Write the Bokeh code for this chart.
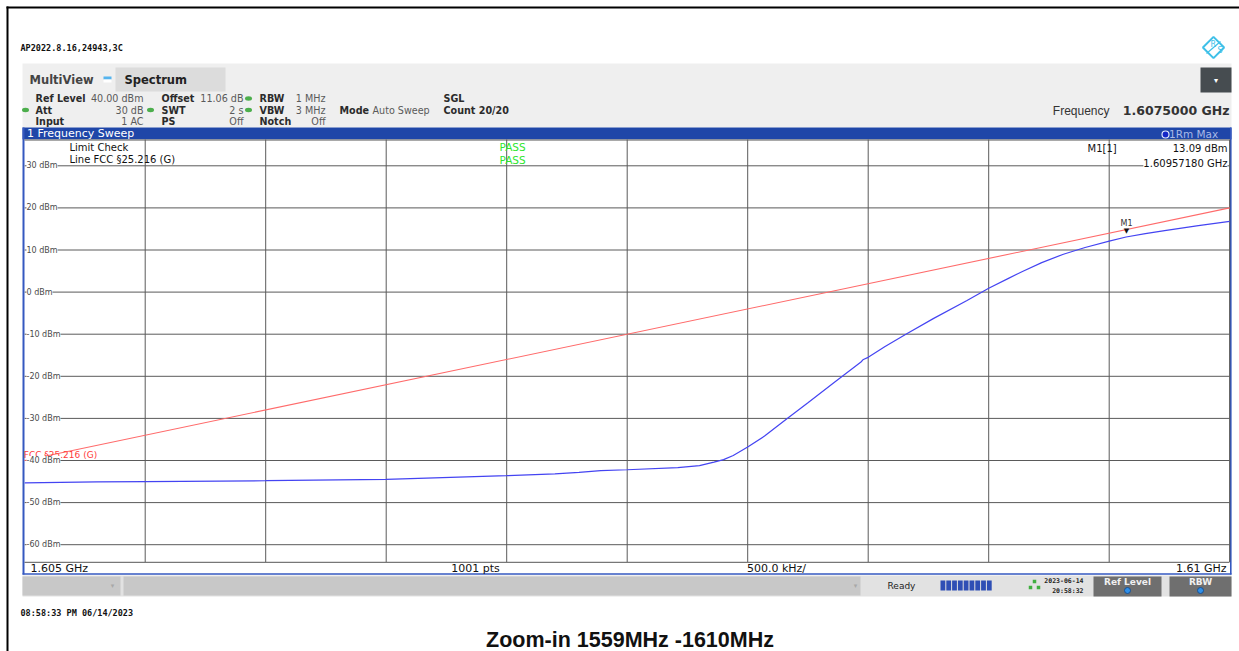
import numpy as np
from bokeh.plotting import figure
from bokeh.models import Range1d, ColumnDataSource, LabelSet, Label
from bokeh.core.properties import value
from bokeh.embed import file_html
from bokeh.resources import INLINE

# ---------------- data ----------------
freq_ghz = [1.60500, 1.60530, 1.60550, 1.60600, 1.60650, 1.60700, 1.60720, 1.60730,
            1.60739, 1.60750, 1.60771, 1.60780, 1.60786, 1.60790, 1.60794, 1.60800,
            1.60807, 1.60816, 1.60825, 1.60836, 1.60847, 1.60848, 1.60850, 1.60857,
            1.60866, 1.60877, 1.60891, 1.60900, 1.60908, 1.60914, 1.60922, 1.60931,
            1.60940, 1.60950, 1.60957, 1.60965, 1.60973, 1.60987, 1.61000]
trace_dbm = [-45.3, -45.1, -45.0, -44.8, -44.5, -43.6, -43.2, -42.8,
             -42.4, -42.2, -41.7, -41.2, -40.4, -39.8, -38.8, -36.8,
             -34.2, -30.2, -26.3, -21.4, -16.6, -16.0, -15.5, -12.9,
             -9.9, -6.3, -2.0, 0.9, 3.2, 4.9, 7.0, 9.0,
             10.6, 12.1, 13.09, 13.9, 14.6, 15.8, 16.8]
limit_freq_ghz = [1.605, 1.610]
limit_dbm = [-40.0, 20.0]
grid_dbm = [30, 20, 10, 0, -10, -20, -30, -40, -50, -60]
grid_dbm_labels = ["30 dBm", "20 dBm", "10 dBm", "0 dBm", "-10 dBm", "-20 dBm",
                   "-30 dBm", "-40 dBm", "-50 dBm", "-60 dBm"]
grid_freq_ghz = [1.6055, 1.6060, 1.6065, 1.6070, 1.6075, 1.6080, 1.6085, 1.6090, 1.6095]
f_start, f_stop = 1.605, 1.610
marker_freq_ghz = 1.6095718
marker_dbm = 13.09

# ---------------- layout (reference pixel geometry) ----------------
W, H = 1239, 651
X0_PX, X1_PX = 24.2, 1229.2       # pixel of f_start / f_stop
Y30_PX, PX_PER_DB = 165.3, 4.21   # pixel of 30 dBm, pixels per dB
GRID_TOP, GRID_BOT = 139.0, 561.5

fpp = (f_stop - f_start) / (X1_PX - X0_PX)
freq_range = Range1d(f_start - X0_PX * fpp, f_stop + (W - X1_PX) * fpp)
dbm_range = Range1d(30 - (H - Y30_PX) / PX_PER_DB, 30 + Y30_PX / PX_PER_DB)

p = figure(width=W, height=H, x_range=Range1d(0, W), y_range=Range1d(H, 0),
           output_backend="svg", toolbar_location=None, tools="",
           x_axis_location=None, y_axis_location=None, min_border=0,
           outline_line_color=None, background_fill_color="white",
           border_fill_color="white")
p.grid.visible = False
p.extra_x_ranges = {"freq": freq_range}
p.extra_y_ranges = {"dbm": dbm_range}

SANS = "DejaVu Sans"


def rect(l, r, t, b, color, line=None):
    p.quad(left=[l], right=[r], top=[t], bottom=[b], fill_color=color,
           line_color=line)


def seg(x0, y0, x1, y1, color, w=1.0):
    p.segment(x0=[x0], y0=[y0], x1=[x1], y1=[y1], line_color=color, line_width=w)


def txt(x, y, s, size, color="#333333", font=SANS, style="normal",
        align="left", baseline="middle"):
    p.text(x=[x], y=[y], text=[s], text_font=value(font), text_font_size=size,
           text_color=color, text_font_style=style, text_align=align,
           text_baseline=baseline)


# document border
seg(6, 7, 1239, 7, "black", 2)
seg(7, 6, 7, H, "black", 2)

# header line of the printout
txt(20, 47, "AP2022.8.16,24943,3C", "8.5px", "#111111", "DejaVu Sans Mono", "bold")
# R&S logo
p.scatter(x=[1213], y=[47], marker="square", size=15, angle=np.pi / 4,
          fill_color=None, line_color="#3fc0e8", line_width=2)
seg(1206, 53, 1220, 41, "#3fc0e8", 1.2)
txt(1210, 44, "R", "8px", "#3fc0e8")
txt(1217, 50, "S", "8px", "#3fc0e8")

# MultiView band
rect(22, 1231, 63, 127, "#efefef")
rect(115, 225, 67, 91, "#dcdcdc")
txt(29, 79.5, "MultiView", "11.5px", "#444444", SANS, "bold")
rect(103, 111, 76, 79, "#55b4ee")
rect(103, 111, 79, 82, "white")
txt(124, 79.5, "Spectrum", "11.5px", "#222222", SANS, "bold")
rect(1200, 1231, 67, 92, "#464c50")
txt(1215.5, 80, "▾", "8px", "white", SANS, "normal", "center")

# settings rows
LBL, VAL = "#2b2b2b", "#5a5a5a"
r1, r2, r3 = 98.0, 109.5, 121.0
for (x, y, s, bold, align) in [
        (35, r1, "Ref Level", True, "left"), (143, r1, "40.00 dBm", False, "right"),
        (161, r1, "Offset", True, "left"), (243, r1, "11.06 dB", False, "right"),
        (259, r1, "RBW", True, "left"), (325, r1, "1 MHz", False, "right"),
        (443, r1, "SGL", True, "left"),
        (35, r2, "Att", True, "left"), (143, r2, "30 dB", False, "right"),
        (161, r2, "SWT", True, "left"), (243, r2, "2 s", False, "right"),
        (259, r2, "VBW", True, "left"), (325, r2, "3 MHz", False, "right"),
        (339, r2, "Mode", True, "left"), (372, r2, "Auto Sweep", False, "left"),
        (443, r2, "Count 20/20", True, "left"),
        (35, r3, "Input", True, "left"), (143, r3, "1 AC", False, "right"),
        (161, r3, "PS", True, "left"), (243, r3, "Off", False, "right"),
        (259, r3, "Notch", True, "left"), (325, r3, "Off", False, "right")]:
    txt(x, y, s, "9.6px", LBL if bold else VAL, SANS, "bold" if bold else "normal", align)
p.ellipse(x=[25, 150, 248, 248], y=[r2, r2, r1, r2], width=7, height=4.5,
          fill_color="#4cae4c", line_color=None)

txt(1109, 110, "Frequency", "12px", "#333333", "Liberation Sans", "normal", "right")
txt(1229, 110, "1.6075000 GHz", "12.5px", "#333333", SANS, "bold", "right")

# blue window title bar
rect(22, 1231, 127, 139, "#1f46a8")
txt(26.5, 133, "1 Frequency Sweep", "11px", "white")
p.scatter(x=[1165], y=[134], marker="circle", size=7, fill_color="#1426c8",
          line_color="#dfe6ff", line_width=1.2)
txt(1168.5, 133.5, "1Rm Max", "10.5px", "#a9b9e6")

# diagram area
rect(22, 1231, 139, 574, "white")
seg(23, 127, 23, 574, "#3558c0", 2)
seg(1230.3, 127, 1230.3, 574, "#3558c0", 1.6)
seg(22, 573.5, 1231, 573.5, "#3558c0", 1.6)
seg(24, 139.5, 1229, 139.5, "#555555", 1)
seg(24, 561.8, 1229, 561.8, "#555555", 1)

GRID_C = "#5a5a5a"
# vertical grid lines (frequency) in data space
p.segment(x0=grid_freq_ghz, x1=grid_freq_ghz, y0=[GRID_TOP] * len(grid_freq_ghz),
          y1=[GRID_BOT] * len(grid_freq_ghz), x_range_name="freq",
          line_color=GRID_C, line_width=1)
p.segment(x0=[f_stop], x1=[f_stop], y0=[GRID_TOP], y1=[GRID_BOT], x_range_name="freq",
          line_color="#444444", line_width=1)
# horizontal grid lines (level)
p.segment(x0=[f_start] * len(grid_dbm), x1=[f_stop] * len(grid_dbm), y0=grid_dbm,
          y1=grid_dbm, x_range_name="freq", y_range_name="dbm",
          line_color=GRID_C, line_width=1)

# level labels
lbl_src = ColumnDataSource(dict(x=[26.0] * len(grid_dbm), y=grid_dbm, text=grid_dbm_labels))
p.add_layout(LabelSet(x="x", y="y", text="text", source=lbl_src, y_range_name="dbm",
                      text_font=value(SANS), text_font_size="8px", text_color="#4a4a4a",
                      text_baseline="middle", background_fill_color="white"))

# limit line + trace
p.line(limit_freq_ghz, limit_dbm, x_range_name="freq", y_range_name="dbm",
       line_color="#ff6b6b", line_width=1.1)
p.line(freq_ghz, trace_dbm, x_range_name="freq", y_range_name="dbm",
       line_color="#4444f2", line_width=1.2)
p.text(x=[limit_freq_ghz[0]], y=[limit_dbm[0]], text=["FCC §25.216 (G)"],
       x_range_name="freq", y_range_name="dbm", text_font=value(SANS),
       text_font_size="9px", text_color="#ff3b3b", text_baseline="middle",
       x_offset=-1, y_offset=-5.5)

# marker
p.text(x=[marker_freq_ghz], y=[marker_dbm], text=["▼"], x_range_name="freq",
       y_range_name="dbm", text_font=value(SANS), text_font_size="7px",
       text_color="#111111", text_align="center", text_baseline="bottom", y_offset=-2)
p.text(x=[marker_freq_ghz], y=[marker_dbm], text=["M1"], x_range_name="freq",
       y_range_name="dbm", text_font=value(SANS), text_font_size="8px",
       text_color="#333333", text_align="center", text_baseline="middle", y_offset=-13)

# in-diagram texts
txt(69, 146.5, "Limit Check", "10px", "#111111")
txt(69, 158.5, "Line FCC §25.216 (G)", "10px", "#111111")
txt(499, 146.5, "PASS", "10.5px", "#2ee62e")
txt(499, 159, "PASS", "10.5px", "#2ee62e")
txt(1087, 148, "M1[1]", "10px", "#111111")
txt(1227, 148, "13.09 dBm", "10px", "#111111", SANS, "normal", "right")
p.add_layout(Label(x=1227, y=163, text="1.60957180 GHz", text_font=SANS,
                   text_font_size="10px", text_color="#111111", text_align="right",
                   text_baseline="middle", background_fill_color="white"))

# footer row
txt(30, 567.5, "1.605 GHz", "11px", "#111111")
txt(475, 567.5, "1001 pts", "11px", "#111111", SANS, "normal", "center")
txt(776, 567.5, "500.0 kHz/", "11px", "#111111", SANS, "normal", "center")
txt(1226, 567.5, "1.61 GHz", "11px", "#111111", SANS, "normal", "right")

# status bar
rect(22, 1231, 575, 596, "#e2e2e2")
rect(22, 120, 576, 595, "#c8c8c8")
rect(123, 860, 576, 595, "#c8c8c8")
txt(112, 585, "▾", "7px", "#a8a8a8", SANS, "normal", "center")
txt(855, 585, "▾", "7px", "#a8a8a8", SANS, "normal", "center")
txt(887, 585.5, "Ready", "9px", "#222222")
p.quad(left=[940 + 5.8 * i for i in range(9)], right=[944.8 + 5.8 * i for i in range(9)],
       top=[580] * 9, bottom=[590] * 9, fill_color="#2f4fb5", line_color=None)
p.scatter(x=[1034, 1030, 1038], y=[581, 587, 587], marker="square", size=3.5,
          fill_color="#3fae3f", line_color=None)
txt(1083, 580, "2023-06-14", "6.5px", "#222222", "DejaVu Sans Mono", "bold", "right")
txt(1083, 590, "20:58:32", "6.5px", "#222222", "DejaVu Sans Mono", "bold", "right")
rect(1093, 1161, 576, 596, "#6f6f6f")
rect(1169, 1231, 576, 596, "#6f6f6f")
txt(1127, 581.5, "Ref Level", "9px", "#f0f0f0", SANS, "bold", "center")
txt(1200, 581.5, "RBW", "9px", "#f0f0f0", SANS, "bold", "center")
p.scatter(x=[1127, 1200], y=[590, 590], marker="circle", size=6, fill_color="#2f8fe8",
          line_color="#1a4f90", line_width=1)

# print footer
txt(20, 612, "08:58:33 PM  06/14/2023", "8.5px", "#111111", "DejaVu Sans Mono", "bold")
txt(629.5, 639.5, "Zoom-in 1559MHz -1610MHz", "21.5px", "#111111", "Liberation Sans",
    "bold", "center", "middle")

open("out.html", "w").write(file_html(p, INLINE))
